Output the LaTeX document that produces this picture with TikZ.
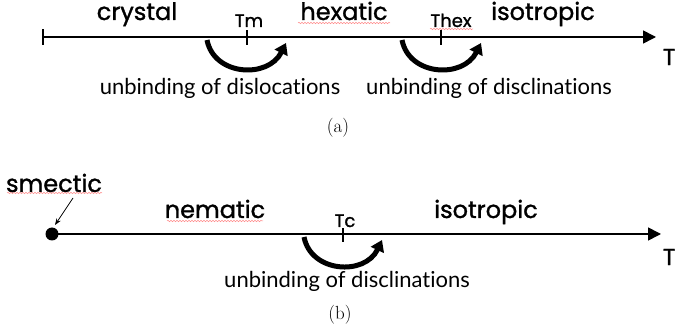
\documentclass[tikz,border=0pt]{standalone}
\usepackage{fontspec}
\newfontfamily\phasefont{Poppins}[FakeBold=1.2]
\newfontfamily\notefont{Lato}[Ligatures=NoCommon]
\usetikzlibrary{arrows.meta,decorations.pathmorphing}

\tikzset{
  phase/.style={font=\phasefont\fontsize{24}{26}\selectfont,anchor=base},
  temp/.style={font=\phasefont\fontsize{18}{20}\selectfont,anchor=base},
  note/.style={font=\notefont\fontsize{22}{24}\selectfont,anchor=base},
  capt/.style={font=\fontsize{19}{21}\selectfont},
  tlab/.style={font=\phasefont\fontsize{23}{25}\selectfont,anchor=east,inner sep=0.5pt},
  axis/.style={line width=1.6pt,-{Triangle[length=13pt,width=13pt]}},
  jump/.style={line width=5pt,-{Triangle[length=11pt,width=14pt]}},
  spell/.style={red!45,line width=0.5pt,decorate,
    decoration={snake,amplitude=0.7pt,segment length=3pt}}
}

\begin{document}
\begin{tikzpicture}[x=1pt,y=1pt,>=Stealth]
\useasboundingbox (0,0) rectangle (676,334);
% ---------- (a) 三相 ----------
\begin{scope}
\coordinate (a0) at (43,297);
\coordinate (a1) at (656,297);
\draw[axis] (a0) -- (a1);
\draw[line width=1.6pt] ([yshift=-8]a0) -- ([yshift=8]a0);
\node[tlab] (aT) at (676,277) {T};
% 相名
\node[phase] (crys) at (137,314) {crystal};
\node[phase] (hexa) at (344,314) {hexatic};
\node[phase] (isoa) at (543,314) {isotropic};
% 转变温度
\coordinate (tm) at (247,297);
\coordinate (thex) at (441,297);
\draw[line width=1.4pt] ([yshift=-8]tm) -- ([yshift=7]tm);
\draw[line width=1.4pt] ([yshift=-8]thex) -- ([yshift=7]thex);
\node[temp] (tmlab) at (249,307) {Tm};
\node[temp] (thexlab) at (451,307) {Thex};
% 弯箭头
\draw[jump] (207,294) .. controls (214,258) and (268,255) .. (286,291);
\draw[jump] (402,294) .. controls (409,258) and (463,255) .. (481,291);
\node[note] (disl) at (220,239) {unbinding of dislocations};
\node[note] (discla) at (489,239) {unbinding of disclinations};
\node[capt] (capa) at (338,206) {(a)};
% 拼写波浪线
\draw[spell] (298,311) -- (390,311);
\draw[spell] (430,305) -- (473,305);
\end{scope}
% ---------- (b) 两相 ----------
\begin{scope}
\coordinate (b0) at (52,100);
\coordinate (b1) at (661,100);
\draw[axis] (b0) -- (b1);
\fill (b0) circle (6.5);
\node[tlab] (bT) at (676,77) {T};
\node[phase] (smec) at (54,142) {smectic};
\node[phase] (nema) at (215,116) {nematic};
\node[phase] (isob) at (486,116) {isotropic};
\coordinate (smtip) at (55,109);
\draw[line width=0.8pt,->] (73,136) -- (smtip);
% 转变温度
\coordinate (tc) at (343,100);
\draw[line width=1.4pt] ([yshift=-8]tc) -- ([yshift=6]tc);
\node[temp] (tclab) at (345,107) {Tc};
\draw[jump] (304,97) .. controls (311,61) and (365,58) .. (382,94);
\node[note] (disclb) at (347,46) {unbinding of disclinations};
\node[capt] (capb) at (340,19) {(b)};
% 拼写波浪线
\draw[spell] (7,141) -- (102,141);
\draw[spell] (167,113) -- (263,113);
\end{scope}
\end{tikzpicture}
\end{document}
